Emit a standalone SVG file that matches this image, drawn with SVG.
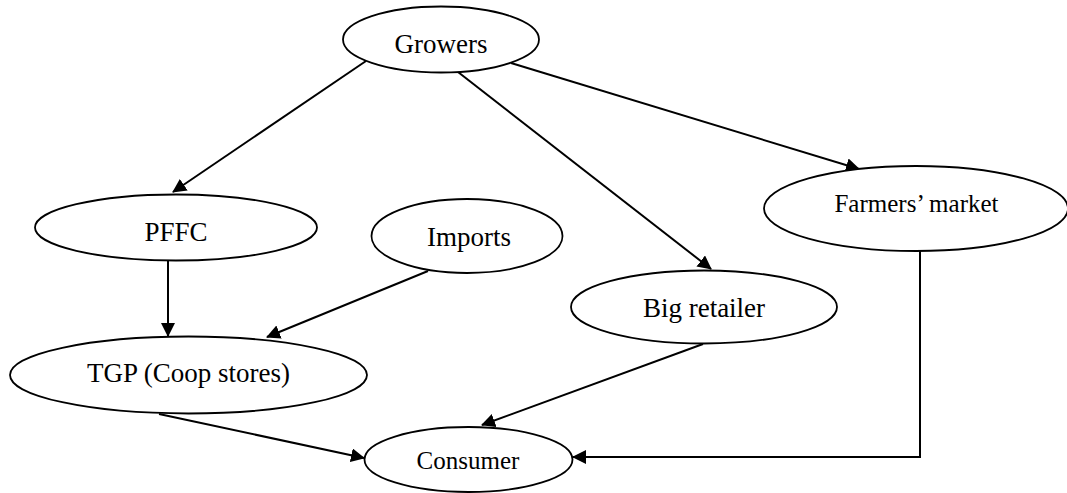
<svg xmlns="http://www.w3.org/2000/svg" width="1067" height="493" viewBox="0 0 1067 493">
<defs>
<style>
.node ellipse{fill:#fff;stroke:#000;stroke-width:1.8}
.node text{font-size:27px;fill:#000;text-anchor:middle}
.edge{fill:none;stroke:#000;stroke-width:2;marker-end:url(#arr)}
</style>
<marker id="arr" markerUnits="userSpaceOnUse" markerWidth="15" markerHeight="15" refX="13" refY="7" orient="auto">
<path d="M0,0 L14,7 L0,14 z" fill="#000"/>
</marker>
</defs>
<rect width="1067" height="493" fill="#fff"/>
<g id="connectors">
<path class="edge" d="M366,61 L173,192"/>
<path class="edge" d="M458,72 L711,269"/>
<path class="edge" d="M511,63 L859,169"/>
<path class="edge" d="M168,260 L168,336"/>
<path class="edge" d="M428,271 L267,337"/>
<path class="edge" d="M703,344 L482,425"/>
<path class="edge" d="M159,414 L364,458"/>
<path class="edge" d="M920,251 L920,457 L573,457"/>
</g>
<g font-family="'Liberation Serif', 'Times New Roman', serif">
<g id="growers" class="node"><ellipse cx="441" cy="39.5" rx="98" ry="33"/><text x="441" y="53">Growers</text></g>
<g id="pffc" class="node"><ellipse cx="176" cy="227.5" rx="141" ry="33"/><text x="176" y="240.5">PFFC</text></g>
<g id="imports" class="node"><ellipse cx="467" cy="236" rx="95.5" ry="37"/><text x="469" y="246">Imports</text></g>
<g id="farmers-market" class="node"><ellipse cx="916" cy="208.5" rx="152" ry="42.5"/><text x="916.5" y="211.5" style="font-size:25px">Farmers’ market</text></g>
<g id="big-retailer" class="node"><ellipse cx="704" cy="307" rx="133" ry="36.5"/><text x="704" y="317">Big retailer</text></g>
<g id="tgp" class="node"><ellipse cx="188.5" cy="375" rx="178.5" ry="38.5"/><text x="188.5" y="382">TGP (Coop stores)</text></g>
<g id="consumer" class="node"><ellipse cx="468.5" cy="459.5" rx="104" ry="32.5"/><text x="468" y="468.5" style="font-size:25px">Consumer</text></g>
</g>
</svg>
